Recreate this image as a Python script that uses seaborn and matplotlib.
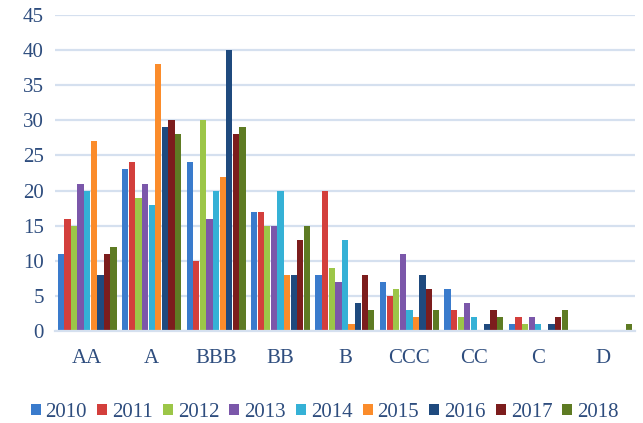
import matplotlib
matplotlib.use("Agg")
import matplotlib.pyplot as plt
import seaborn as sns
import pandas as pd

categories = ["AA", "A", "BBB", "BB", "B", "CCC", "CC", "C", "D"]
years = ["2010", "2011", "2012", "2013", "2014", "2015", "2016", "2017", "2018"]
v2010 = [11, 23, 24, 17, 8, 7, 6, 1, 0]
v2011 = [16, 24, 10, 17, 20, 5, 3, 2, 0]
v2012 = [15, 19, 30, 15, 9, 6, 2, 1, 0]
v2013 = [21, 21, 16, 15, 7, 11, 4, 2, 0]
v2014 = [20, 18, 20, 20, 13, 3, 2, 1, 0]
v2015 = [27, 38, 22, 8, 1, 2, 0, 0, 0]
v2016 = [8, 29, 40, 8, 4, 8, 1, 1, 0]
v2017 = [11, 30, 28, 13, 8, 6, 3, 2, 0]
v2018 = [12, 28, 29, 15, 3, 3, 2, 3, 1]
series = [v2010, v2011, v2012, v2013, v2014, v2015, v2016, v2017, v2018]
colors = ["#3a7bcc", "#d33f3c", "#9cc648", "#7b57aa", "#35b1d6",
          "#fb8c2b", "#1f4a7e", "#7c1d1d", "#5e7b23"]

rows = []
for y, vals in zip(years, series):
    for c, v in zip(categories, vals):
        rows.append({"cat": c, "year": y, "val": v})
df = pd.DataFrame(rows)

sns.set_style("white")
plt.rcParams["font.family"] = ["Liberation Serif", "DejaVu Serif"]

fig = plt.figure(figsize=(6.43, 4.23), dpi=100)
ax = fig.add_axes([0.0855, 0.2175, 0.902, 0.747])
sns.barplot(data=df, x="cat", y="val", hue="year", order=categories,
            hue_order=years, palette=colors, width=0.92, gap=0.05,
            saturation=1, linewidth=0, ax=ax, legend=True)

ax.set_ylim(0, 45)
ax.set_yticks(range(0, 46, 5))
ax.set_xlim(-0.5, len(categories) - 0.5)
ax.yaxis.grid(True, color="#d5e0ef", linewidth=1.6)
ax.set_axisbelow(True)
for s in ["top", "right", "left"]:
    ax.spines[s].set_visible(False)
ax.spines["bottom"].set_color("#d5e0ef")
ax.spines["bottom"].set_linewidth(1.6)
ax.set_xlabel("")
ax.set_ylabel("")
ax.tick_params(axis="both", length=0, labelsize=15, colors="#2e4d7e")
ax.tick_params(axis="x", pad=13)
ax.tick_params(axis="y", pad=8)

handles, labels = ax.get_legend_handles_labels()
ax.get_legend().remove()
fig.legend(handles, labels, loc="center", bbox_to_anchor=(0.505, 0.025),
           ncol=9, frameon=False, fontsize=15, handlelength=0.48,
           handleheight=0.48, handletextpad=0.24, columnspacing=0.48,
           labelcolor="#2e4d7e", borderpad=0)

fig.savefig("out.png", dpi=100)
